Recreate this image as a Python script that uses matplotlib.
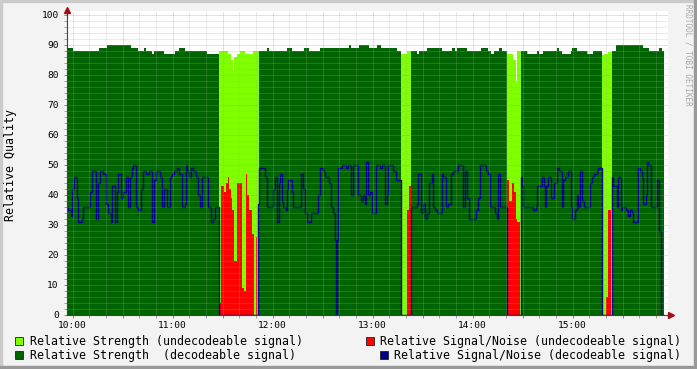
import numpy as np
import matplotlib
matplotlib.use('Agg')
import matplotlib.pyplot as plt
from matplotlib.patches import Rectangle
from matplotlib.ticker import MultipleLocator, FuncFormatter

W, H = 697, 369
plt.rcParams['font.family'] = 'DejaVu Sans Mono'

# ── Data (time = minutes after 10:00, each value holds until the next time) ──
END_T = 354.9

# Relative Strength (decodeable signal)
STR_DEC_T = [-3.3, 0.3, 15.9, 20.7, 35.1, 39.3, 42.9, 44.1, 47.7, 48.9,
             54.9, 61.5, 63.9, 67.5, 80.7, 87.9, 111.9, 116.7, 117.9, 128.7,
             131.7, 138.9, 141.9, 148.5, 165.9, 167.1, 171.9, 177.9, 182.7, 185.1,
             194.7, 197.1, 203.1, 206.7, 207.9, 212.7, 221.7, 227.7, 229.5, 230.7,
             236.7, 245.1, 249.3, 251.1, 252.9, 255.9, 257.7, 260.7, 269.1, 272.7,
             278.7, 279.9, 282.3, 290.7, 291.9, 293.7, 299.1, 299.7, 302.7, 308.7,
             312.3, 317.7, 323.7, 326.1, 342.3, 345.9, 351.9, 353.7]
STR_DEC_V = [89, 88, 89, 90, 89, 88, 89, 88, 87, 88,
             87, 88, 89, 88, 87, 0, 88, 89, 88, 89,
             88, 89, 88, 89, 90, 89, 90, 89, 90, 89,
             88, 0, 88, 87, 88, 89, 88, 89, 88, 89,
             88, 89, 88, 87, 88, 89, 88, 0, 88, 87,
             88, 87, 88, 89, 88, 87, 88, 89, 88, 87,
             88, 0, 88, 90, 89, 88, 89, 88]

# Relative Strength (undecodeable signal)
STR_UND_T = [-3.3, 87.9, 93.3, 95.1, 96.3, 96.9, 98.7, 100.5, 103.5, 108.3,
             111.9, 197.1, 200.7, 203.1, 260.7, 264.3, 266.1, 266.7, 269.1, 272.1,
             273.3, 308.1, 309.3, 317.7, 318.9, 321.3, 323.7]
STR_UND_V = [0, 88, 87, 85, 81.5, 86, 87, 88, 87, 88,
             0, 87, 88, 0, 87, 85, 77.5, 88, 0, 88,
             0, 88, 0, 86.7, 87, 87.7, 0]

# Relative Signal/Noise (undecodeable signal)
SN_UND_T = [-3.3, 87.9, 88.9, 90.9, 92.1, 93.1, 93.9, 95.1, 95.9, 97.1,
            98.5, 101.5, 102.7, 103.9, 104.5, 105.7, 107.5, 108.7, 110.1, 110.9,
            197.1, 197.7, 200.7, 201.9, 203.1, 260.7, 261.9, 263.7, 264.9, 266.1,
            266.7, 268.5, 320.1, 321.3, 323.1]
SN_UND_V = [0, 4, 43, 41, 44, 46, 42, 39, 35, 18,
            44, 9, 8, 47, 40, 35, 27, 0, 26, 0,
            29, 0, 35, 43, 0, 45, 38, 44, 41, 32,
            31, 0, 6, 35, 0]

# Relative Signal/Noise (decodeable signal)
SN_DEC_T = [-3.3, -2.7, -0.9, -0.3, 0.9, 2.7, 3.3, 5.7, 6.3, 10.5,
            11.7, 14.1, 15.3, 16.5, 18.3, 20.1, 21.3, 23.1, 23.7, 25.5,
            26.7, 27.3, 29.1, 30.3, 32.1, 33.3, 34.5, 35.7, 36.3, 38.1,
            39.3, 41.1, 42.3, 44.1, 45.9, 47.7, 48.9, 50.1, 52.5, 53.7,
            54.9, 56.7, 58.5, 59.7, 60.9, 62.7, 63.9, 65.7, 67.5, 68.1,
            68.7, 69.9, 71.1, 72.3, 74.1, 75.3, 76.5, 77.7, 81.3, 83.1,
            84.3, 85.5, 87.9, 111.3, 111.9, 115.5, 116.7, 120.3, 121.5, 122.7,
            123.9, 124.5, 125.7, 126.3, 128.1, 128.7, 129.3, 131.7, 132.3, 137.1,
            138.3, 139.5, 140.7, 143.1, 147.3, 148.5, 150.3, 151.5, 153.9, 155.1,
            156.3, 157.5, 158.1, 158.7, 159.3, 161.7, 164.1, 165.3, 167.1, 168.3,
            171.3, 173.1, 174.3, 175.5, 176.1, 177.3, 178.5, 179.7, 182.1, 184.5,
            185.7, 187.5, 188.7, 189.3, 192.3, 194.1, 197.1, 203.1, 206.7, 207.3,
            209.1, 210.3, 211.5, 212.7, 213.9, 215.7, 216.3, 217.5, 218.7, 221.7,
            222.3, 224.1, 225.3, 227.1, 228.3, 231.3, 234.3, 235.5, 236.7, 237.9,
            242.1, 243.3, 244.5, 248.1, 249.3, 250.5, 253.5, 254.7, 255.3, 256.5,
            260.7, 268.8, 269.7, 270.3, 276.3, 278.1, 278.7, 281.7, 282.9, 283.5,
            284.1, 285.3, 287.1, 288.9, 290.7, 291.9, 293.7, 294.3, 295.5, 297.3,
            299.1, 299.7, 301.5, 302.7, 303.3, 304.5, 305.7, 306.9, 310.5, 311.7,
            312.9, 314.7, 315.3, 317.7, 323.4, 324.3, 326.7, 327.3, 329.1, 329.7,
            332.1, 333.3, 334.5, 335.7, 336.3, 339.3, 340.5, 341.7, 342.3, 344.1,
            344.7, 345.3, 347.1, 350.7, 351.9, 353.1]
SN_DEC_V = [36, 35, 33, 42, 46, 39, 31, 32, 36, 41,
            48, 32, 44, 48, 47, 37, 34, 31, 43, 31,
            41, 47, 39, 41, 46, 36, 46, 49, 50, 36,
            35, 42, 48, 47, 48, 31, 45, 48, 46, 36,
            42, 36, 46, 47, 48, 49, 47, 36, 37, 50,
            48, 46, 49, 48, 46, 40, 36, 46, 36, 31,
            32, 36, 0, 37, 49, 46, 36, 42, 46, 31,
            44, 47, 38, 36, 35, 42, 45, 41, 36, 47,
            42, 34, 31, 34, 40, 49, 48, 46, 44, 36,
            34, 25, 0, 25, 49, 50, 49, 50, 40, 50,
            40, 38, 40, 37, 51, 40, 41, 34, 50, 49,
            50, 37, 40, 50, 48, 45, 0, 36, 37, 47,
            34, 37, 32, 34, 44, 47, 36, 35, 34, 47,
            46, 36, 37, 47, 48, 50, 36, 48, 39, 32,
            35, 39, 50, 48, 47, 36, 34, 32, 47, 36,
            0, 46, 43, 36, 35, 36, 43, 46, 43, 36,
            43, 46, 39, 44, 49, 48, 36, 45, 46, 48,
            36, 32, 35, 40, 36, 48, 38, 36, 44, 46,
            47, 48, 49, 0, 46, 43, 36, 46, 35, 36,
            35, 33, 35, 34, 31, 49, 48, 46, 37, 40,
            51, 50, 36, 45, 28, 0]

LEGEND_LABELS = ['Relative Strength (undecodeable signal)',
                 'Relative Signal/Noise (undecodeable signal)',
                 'Relative Strength  (decodeable signal)',
                 'Relative Signal/Noise (decodeable signal)']

C_LIGHT = '#7FFF00'
C_DARK = '#006400'
C_RED = '#FF0000'
C_BLUE = '#00008B'


def fx(x):
    return x / W


def fy(y):
    return 1 - y / H


def hhmm(m, pos=None):
    m = int(round(m))
    if m % 60:
        return ''
    return f'{10 + m // 60:02d}:{m % 60:02d}'


# ── Figure ────────────────────────────────────────────────────────────────────
fig = plt.figure(figsize=(W / 100, H / 100), dpi=100, facecolor='#F3F3F3')
ax = fig.add_axes([fx(67), fy(315), fx(668) - fx(67), fy(11) - fy(315)])
ax.set_facecolor('white')
ax.set_xlim(-3.3, 357.3)
ax.set_ylim(0, 101.33)

ax.stairs(STR_UND_V, STR_UND_T + [END_T], fill=True, color=C_LIGHT, lw=0, zorder=1.0)
ax.stairs(STR_DEC_V, STR_DEC_T + [END_T], fill=True, color=C_DARK, lw=0, zorder=1.1)
ax.stairs(SN_UND_V, SN_UND_T + [END_T], fill=True, color=C_RED, lw=0, zorder=1.2)
ax.stairs(SN_DEC_V, SN_DEC_T + [END_T], baseline=None, color=C_BLUE, lw=1.0, zorder=2)

# grid on top, rrdtool style
ax.set_axisbelow(False)
ax.xaxis.set_major_locator(MultipleLocator(30))
ax.xaxis.set_minor_locator(MultipleLocator(10))
ax.yaxis.set_major_locator(MultipleLocator(10))
ax.yaxis.set_minor_locator(MultipleLocator(2))
ax.xaxis.set_major_formatter(FuncFormatter(hhmm))
ax.grid(which='minor', color='#A8A8A8', alpha=0.45, lw=0.72, ls=(0, (1, 1)))
ax.grid(which='major', color='#FF7070', alpha=0.55, lw=0.72, ls=(0, (1, 1)))

ax.tick_params(which='both', direction='out', length=2, width=0.7)
ax.tick_params(which='major', color='#E06060', labelsize=6.8)
ax.tick_params(which='minor', color='#A0A0A0')
ax.tick_params(axis='x', pad=2)
ax.tick_params(axis='y', pad=4)

for s in ['top', 'right']:
    ax.spines[s].set_visible(False)
for s in ['left', 'bottom']:
    ax.spines[s].set_color('#404040')
    ax.spines[s].set_linewidth(0.8)
    ax.spines[s].set_zorder(3)

# axis arrows
fig.add_artist(plt.Line2D([fx(67)], [fy(10)], marker='^', ms=4.5, color='#A01010',
                          mec='#A01010'))
fig.add_artist(plt.Line2D([fx(670.5)], [fy(315)], marker='>', ms=4.5, color='#A01010',
                          mec='#A01010'))

fig.text(fx(11), fy(165), 'Relative Quality', rotation=90, ha='center', va='center',
         fontsize=8.4)
fig.text(fx(688), fy(4), 'RRDTOOL / TOBI OETIKER', rotation=270, ha='center', va='top',
         fontsize=5.5, color='#A8A8A8')

# legend
legend = [(15, 341, C_LIGHT, 30, LEGEND_LABELS[0]),
          (366, 341, C_RED, 380, LEGEND_LABELS[1]),
          (15, 355, C_DARK, 30, LEGEND_LABELS[2]),
          (380, 355, C_BLUE, 394, LEGEND_LABELS[3])]
for bx, by, col, tx, lab in legend:
    fig.add_artist(Rectangle((fx(bx), fy(by + 4)), 8 / W, 8 / H, facecolor=col,
                             edgecolor='#202020', lw=0.6, transform=fig.transFigure))
    fig.text(fx(tx), fy(by), lab, ha='left', va='center', fontsize=8.4)

# 3D frame
fig.add_artist(Rectangle((0, 0), 2 / W, 1, color='#CBCBCB', transform=fig.transFigure))
fig.add_artist(Rectangle((0, 1 - 2 / H), 1, 2 / H, color='#CBCBCB', transform=fig.transFigure))
fig.add_artist(Rectangle((1 - 3 / W, 0), 3 / W, 1, color='#999999', transform=fig.transFigure))
fig.add_artist(Rectangle((0, 0), 1, 3 / H, color='#999999', transform=fig.transFigure))

fig.savefig('out.png', dpi=100, facecolor=fig.get_facecolor())
